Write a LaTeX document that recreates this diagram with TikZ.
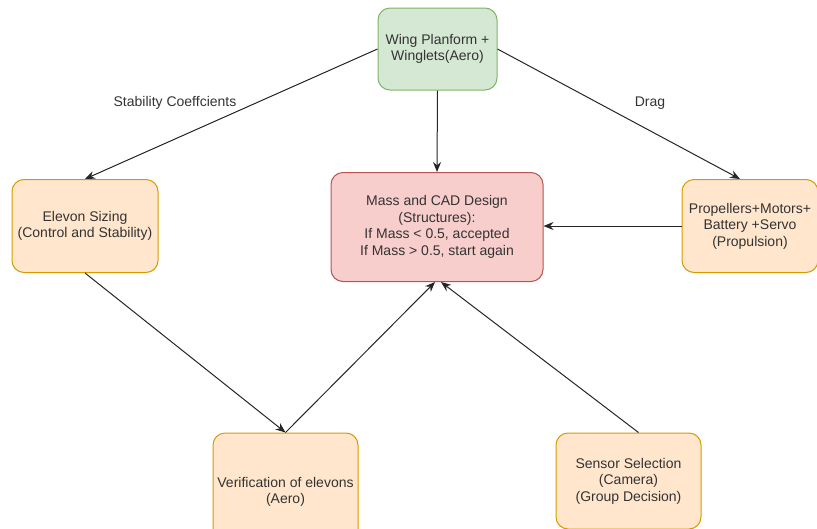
\documentclass[tikz,border=0pt]{standalone}
\usepackage{fontspec}
\setmainfont{Liberation Sans}
\usetikzlibrary{arrows.meta}

\definecolor{greenfill}{HTML}{D5E8D4}
\definecolor{greenline}{HTML}{82B366}
\definecolor{redfill}{HTML}{F8CECC}
\definecolor{redline}{HTML}{B85450}
\definecolor{orangefill}{HTML}{FFE6CC}
\definecolor{orangeline}{HTML}{D79B00}
\definecolor{textgray}{HTML}{333333}

\tikzset{
  block/.style={rounded corners=12pt,line width=1pt,align=center,inner sep=2pt,
    text=textgray,font=\fontsize{14}{16.5}\selectfont},
  aero/.style={block,fill=greenfill,draw=greenline},
  struct/.style={block,fill=redfill,draw=redline},
  task/.style={block,fill=orangefill,draw=orangeline},
  link/.style={line width=1pt,draw=black!85,-{Stealth[length=10pt,width=8pt]}},
  edgetext/.style={text=textgray,font=\fontsize{14}{16.5}\selectfont}
}

\begin{document}
\begin{tikzpicture}[x=1pt,y=-1pt]
\useasboundingbox (0,0) rectangle (817,528);
\clip (0,0) rectangle (817,528);

\node[aero,minimum width=119pt,minimum height=82pt] (wing) at (437.5,49) {Wing Planform +\\Winglets(Aero)};
\node[struct,minimum width=212pt,minimum height=109pt] (mass) at (437,227) {Mass and CAD Design\\(Structures):\\If Mass < 0.5, accepted\\If Mass > 0.5, start again};
\node[task,minimum width=146pt,minimum height=93pt] (elevon) at (85,226) {Elevon Sizing\\(Control and Stability)};
\node[task,minimum width=136pt,minimum height=93pt] (prop) at (750,226) {Propellers+Motors+\\Battery +Servo\\(Propulsion)};
\node[task,minimum width=145pt,minimum height=118pt] (verif) at (285.5,492) {Verification of elevons\\(Aero)};
\node[task,minimum width=145pt,minimum height=96pt] (sensor) at (628.5,481) {Sensor Selection\\(Camera)\\(Group Decision)};

\node[edgetext] (stab) at (175,103) {Stability Coeffcients};
\node[edgetext] (drag) at (650,103) {Drag};

\draw[link] (wing.west) -- (elevon.north);
\draw[link] (wing.south) -- (mass.north);
\draw[link] (wing.east) -- ([xshift=-10pt]prop.north);
\draw[link] (prop.west) -- (prop.west -| mass.east);
\draw[link] (elevon.south) -- (verif.north);
\draw[link] (verif.north) -- ([xshift=-2pt]mass.south);
\draw[link] ([xshift=10pt]sensor.north) -- ([xshift=4pt]mass.south);

\end{tikzpicture}
\end{document}
